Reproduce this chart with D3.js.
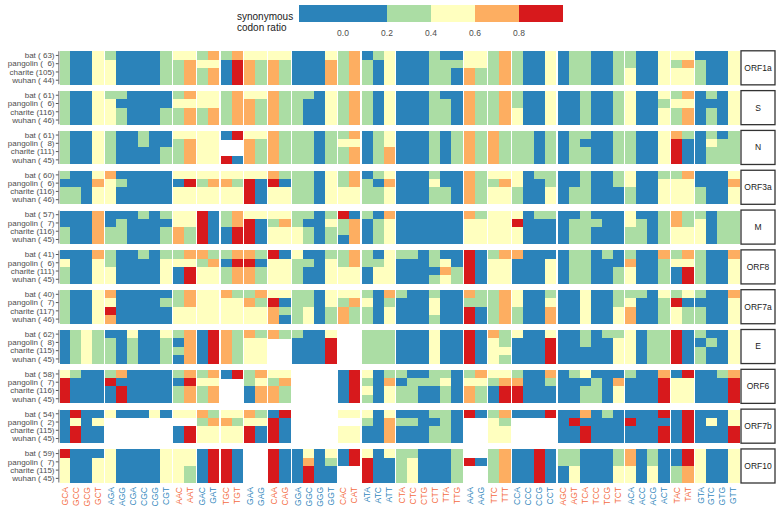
<!DOCTYPE html>
<html>
<head>
<meta charset="utf-8">
<script src="https://cdn.jsdelivr.net/npm/d3@7"></script>
<style>
  body { margin: 0; background: #fff; }
  svg { font-family: Arial, "Liberation Sans", sans-serif; }
  .ylab { white-space: pre; }
</style>
</head>
<body>
<div id="canvas"></div>
<script>
// codons, ordered by amino acid (full-name alphabetical)
const codons = ["GCA","GCC","GCG","GCT","AGA","AGG","CGA","CGC","CGG","CGT","AAC","AAT",
  "GAC","GAT","TGC","TGT","GAA","GAG","CAA","CAG","GGA","GGC","GGG","GGT","CAC","CAT",
  "ATA","ATC","ATT","CTA","CTC","CTG","CTT","TTA","TTG","AAA","AAG","TTC","TTT",
  "CCA","CCC","CCG","CCT","AGC","AGT","TCA","TCC","TCG","TCT","ACA","ACC","ACG","ACT",
  "TAC","TAT","GTA","GTC","GTG","GTT"];
const aminoSizes = [4,6,2,2,2,2,2,4,2,3,6,2,2,4,6,4,2,4];

const genes = ["ORF1a","S","N","ORF3a","M","ORF8","ORF7a","E","ORF6","ORF7b","ORF10"];
const hosts = ["bat","pangolin","charite","wuhan"];
const batN      = [63,61,61,60,57,41,40,62,58,54,59];
const pangolinN = [6,6,8,6,7,6,7,8,7,2,7];
const chariteN  = [105,116,111,116,116,111,117,115,116,115,115];
const wuhanN    = [44,46,45,46,45,45,46,45,45,45,45];

// ratio read per cell: B <0.2, G 0.2-0.4, Y 0.4-0.6, O 0.6-0.8, R >=0.8, "." no codon
const binMid = {B: 0.1, G: 0.3, Y: 0.5, O: 0.7, R: 0.9};

const orf1a = [
  "GBBY GBBBBG YY GO GO YY YY BBBY GO BGY BBBGBB YY GO GBBY BGGBBG GBBY YY BBBY",
  "GBBY YBBBBG GO YY BR OG OG BBBO GO GBY BBBGGG YY GO GBBY BGGBBG GBBY GO GBBY",
  "GBBY YBBBBG GO GO BR OG OG BBBO GO GBY BBBGGB OG GO GBBY BGGBBG YBBY YY GBBY",
  "GBBY YBBBBG GO GO BR OG OG BBBO GO GBY BBBGGB OG GO GBBY BGGBBG YBBY YY GBBY"];
const geneS = [
  "GBBY GGBBBB GO YY GO YY OG GGBY GO GBY BBBGBB OG GO GBBY BBGBBG YBBY GO BGBY",
  "GBBY YBBBBB YY YY GO OG OG GBBY GO GBY BBBGGB OG GO GBBY BBGBBG YBBG YY BBBY",
  "GBBY YGBBBG GO GO GO OG OG GBBY GO GBY BBBGGB OG GO YBBY BBGBBG YBBY GO BGBY",
  "GBBY YGBBBG GO GO GO OG OG GBBY GO GBY BBBGGB OG GO YBBY BBGBBG YBBY GO BGBY"];
const geneN = [
  "GBBY GBBGBB YY YY BR YY OG GGBG GO BGY BBBGBG OG OG GGBG BGGBBG GBBY OG BGBG",
  "GBBY GBBGBB GO YY .. OG OG GGBG YY BGY BBBGBG OG OG GGBG BGBBBG GBBY RB BYGG",
  "GBBY GBBBBG GO YY .. OG OG GGBG GO BGO BBBGBG OG OG GGBG BGGBBG GBBY RB BGGG",
  "GBBY GBBBBG GO YY RB OG OG GGBG GO BGO BBBGBG OG OG GGBG BGGBBG GBBY RB BGGG"];
const orf3a = [
  "GBBY OBBBBB YY YY YY YY OG GGBY GO BGY BBBGBB OG YY YBGG BBGBBG YBBG GO BBBY",
  "BBBO YGBBBB BR GO OG RB RB GGBY GO GBO BBBYBB OG GO YBBG BBGBBG YBBY YY BBBO",
  "GGBY YBBBBB YY YY YY RB YY GGBY YY GGY BBBGGB OG YY GBBY BGGBBB GBBY YY GBBY",
  "GGBY YBBBBB YY YY YY RB YY GGBY YY GGY BBBGGB OG YY GBBY BGGBBB GBBY YY GBBY"];
const geneM = [
  "BBBO BBBGBG YY RB GO YY YY GGBG RB GBO BBBBBB OG YY YBGG BBGBBB YBBG OG GBGG",
  "BBBO BGBBBB YY RB GO RB GO GBBY GO BGY BBBBBB YY YY RBBB BGGGBB YGBG OG YBGG",
  "GBBO GGBBBG OG RB BR RB YY YGBG GO BGY BBBBBB YY YY YBBB BGGBBB GGBG YY YBGG",
  "GBBO GGBBBG OG RB BR RB YY YGBG BO BGY BBBBBB YY YY YBBB BGGBBB GGBG YY YBGG"];
const orf8 = [
  "BBBO GBBGBG GO OG GO OG RB YBBG GO GBY GGBGBB RB GO OBBB BGGBGB GBBO GO GBBO",
  "YBBY GBBBBY YY GO BR RB YY GGBY GO GGY BBBGYB RB YY BBBY BGGBBB OBBG YY GBBY",
  "GBBY YBBBBY BR YY GO OG YY GBBY YY BYY BBBBOG RB YY BBBY BGGBBG YBBG BR GBBY",
  "GBBY YBBBBY BR YY GO OG YY GBBY YY BYY BBBGYG RB YY BBBY BGGBBG YBBG BR GBBY"];
const orf7a = [
  "GBBY OBBBBB GO YY OG GO YY GGBY YY GBO GBBGBB OG GO YBBG BBYBBG GGBY GY GBBO",
  "GBBY YBBBBG GO YY YY OG RB GGBY GO YBG BBBYBB GG GO YBBY BBYBBG YBBG RB BBBY",
  "GBBY RBBBBB YY YY YY YY OG GYBG OG GBY BBBYBB RB GO GBBO BBYBBY OBBG YG GBBY",
  "GBBY OBBBBB YY YY YY YY OB GYBG OG GBY BBBGBB RB GO GBBO BBYBBY OBBG YG GBBY"];
const geneE = [
  "BGYG BBYBBY GO BR OG OG OG GBBY .. GGG BBBYBB RB OG YBBY BBGBGG YBGG RB GBBY",
  "BGYG GBGBBG BO BR OG YY .. BBBR .. GGG BBBYBB RB YG BBBR BBGBBY YBGG RB BGBY",
  "BGYG GBGBBG GO BR OG YY .. BBBR .. GGG BBBYBB RB YY BBBR BBBBBY YBGG RB GBBY",
  "BGYG GBGBBG BO BR OG YY .. BBBR .. GGG BBBYBB RB YG BBBR BBBBBY YBGG RB GBBY"];
const orf6 = [
  "YGBB GOBBBB GO GO BR GO YY .... BR YBG GBBGGB GO YY GBBO BGYBBB GBBO BR BBGO",
  "RBBB RBBBBB BR YY .. GY GO .... BR GBO BGGGYB YY GO OBBG BBBGBO BBBR YY BBBR",
  "RBBB BRBBBB GO GO .. BO OG .... BR YBY GGBBGB OG BR RBBB BBGGBY BBBR YY BBBR",
  "RBBB BRBBBB GO GO .. BO OG .... BR GBY GGBBGB OG BR RBBB BBGGBY BBBR YY BBBR"];
const orf7b = [
  "BRBB YBBBYB YY OG YY OG BR .... YY YBY BBBGGB RB GO BBBR BBOBGB BBBR BR BBBY",
  "BYBY ...... .. GO OG YY RB .... .. GBO GGBBGB .. YG .... BRBBBB RBBB BR BYBY",
  "BRBB ...... BR YY YY RB RB .... YY BBO BBBGGB .. YY .... BBRBBB BBBR BR BBBR",
  "BRBB ...... BR YY YY RB RB .... YY BBO BBBGGB .. YY .... BBRBBB BBBR BR BBBR"];
const orf10 = [
  "RBBB YBBBBY YY BR RB .. RB BYBY BR YBY GGBBBG .. GO BBRB GGBBBG OBGB BR YBBY",
  "YBBY YBBBBY YY BR RB .. RB BOBG BR RBB GYBBBG RB GO BBRB GGBBBG OBGB BR YBBY",
  "YBBY YBBBBY YG BR RB .. RB BRBB .. RBB GYBBBG .. GO BBRB BYBBBY YBYB GO YBBY",
  "YBBY YBBBBY YG BR RB .. RB BRBB .. RBB GYBBBG .. GO BBRB BYBBBY YBYB GO YBBY"];
const geneRows = [orf1a, geneS, geneN, orf3a, geneM, orf8, orf7a, geneE, orf6, orf7b, orf10];

const binColors = ["#2b83ba","#abdda4","#ffffbf","#fdae61","#d7191c"];
const legendTicks = [0, 0.2, 0.4, 0.6, 0.8];

const width = 784, height = 513;
const svg = d3.select("#canvas").append("svg").attr("width", width).attr("height", height);

// codon index -> amino-acid group index
const groupOf = [];
aminoSizes.forEach((n, g) => { for (let k = 0; k < n; k++) groupOf.push(g); });
const gapFrac = 0.165;
const x = d3.scaleLinear()
  .domain([0, codons.length + (aminoSizes.length - 1) * gapFrac])
  .range([59.5, 739]);
const slot = i => i + groupOf[i] * gapFrac;
const cw = x(1) - x(0);

const yGene = d3.scaleBand().domain(genes).range([51.3, 482.5]).paddingInner(0.17);
const yHost = d3.scaleBand().domain(hosts).range([0, yGene.bandwidth()]);

const color = d3.scaleThreshold().domain([0.2, 0.4, 0.6, 0.8]).range(binColors);

const cells = [];
genes.forEach((gene, gi) => {
  geneRows[gi].forEach((row, hi) => {
    row.replace(/ /g, "").split("").forEach((c, ci) => {
      if (c !== ".") cells.push({gene, host: hosts[hi], codon: ci, value: binMid[c]});
    });
  });
});

const plot = svg.append("g").attr("shape-rendering", "crispEdges");
plot.selectAll("rect.cell").data(cells).enter().append("rect")
  .attr("class", "cell")
  .attr("x", d => x(slot(d.codon)))
  .attr("y", d => yGene(d.gene) + yHost(d.host))
  .attr("width", cw + 0.5)
  .attr("height", yHost.bandwidth() + 0.5)
  .attr("fill", d => color(d.value));

// left axes per facet
const counts = [batN, pangolinN, chariteN, wuhanN];
genes.forEach((gene, gi) => {
  const g = svg.append("g").attr("transform", `translate(0,${yGene(gene)})`);
  g.append("line").attr("x1", 58.8).attr("x2", 58.8).attr("y1", 0).attr("y2", yGene.bandwidth())
    .attr("stroke", "#8c8c8c").attr("stroke-width", 1.3);
  hosts.forEach((h, hi) => {
    const cy = yHost(h) + yHost.bandwidth() / 2;
    g.append("line").attr("x1", 55.8).attr("x2", 58.5).attr("y1", cy).attr("y2", cy)
      .attr("stroke", "#555").attr("stroke-width", 1);
    g.append("text").attr("class", "ylab")
      .attr("x", 54.5).attr("y", cy).attr("dy", "0.35em")
      .attr("text-anchor", "end").attr("font-size", 8).attr("fill", "#4d4d4d")
      .text(`${h} (${String(counts[hi][gi]).padStart(3, " ")})`);
  });
  // strip
  g.append("rect").attr("x", 741).attr("y", -0.5).attr("width", 34).attr("height", yGene.bandwidth() + 1)
    .attr("fill", "#fff").attr("stroke", "#333").attr("stroke-width", 1.3);
  g.append("text").attr("x", 758).attr("y", yGene.bandwidth() / 2).attr("dy", "0.35em")
    .attr("text-anchor", "middle").attr("font-size", 8.5).attr("fill", "#1a1a1a").text(gene);
});

// codon labels
svg.append("g").selectAll("text").data(codons).enter().append("text")
  .attr("transform", (d, i) => `translate(${x(slot(i)) + cw / 2},487) rotate(-90)`)
  .attr("dy", "0.35em").attr("text-anchor", "end").attr("font-size", 8.5)
  .attr("fill", (d, i) => groupOf[i] % 2 === 0 ? "#f46d43" : "#3288bd")
  .text(d => d);

// legend
const lx = d3.scaleLinear().domain([-0.2, 1.0]).range([299, 563]);
const leg = svg.append("g");
const edges = [-0.2, 0.2, 0.4, 0.6, 0.8, 1.0];
leg.selectAll("rect").data(binColors).enter().append("rect")
  .attr("x", (d, i) => lx(edges[i])).attr("y", 5)
  .attr("width", (d, i) => lx(edges[i + 1]) - lx(edges[i])).attr("height", 17)
  .attr("fill", d => d);
leg.selectAll("text.tick").data(legendTicks).enter().append("text")
  .attr("class", "tick").attr("x", d => lx(d)).attr("y", 35.5)
  .attr("text-anchor", "middle").attr("font-size", 8.5).attr("fill", "#4d4d4d")
  .text(d => d3.format(".1f")(d));
leg.append("text").attr("x", 237).attr("y", 19.5).attr("font-size", 10).attr("fill", "#1a1a1a").text("synonymous");
leg.append("text").attr("x", 237).attr("y", 30.5).attr("font-size", 10).attr("fill", "#1a1a1a").text("codon ratio");
</script>
</body>
</html>
